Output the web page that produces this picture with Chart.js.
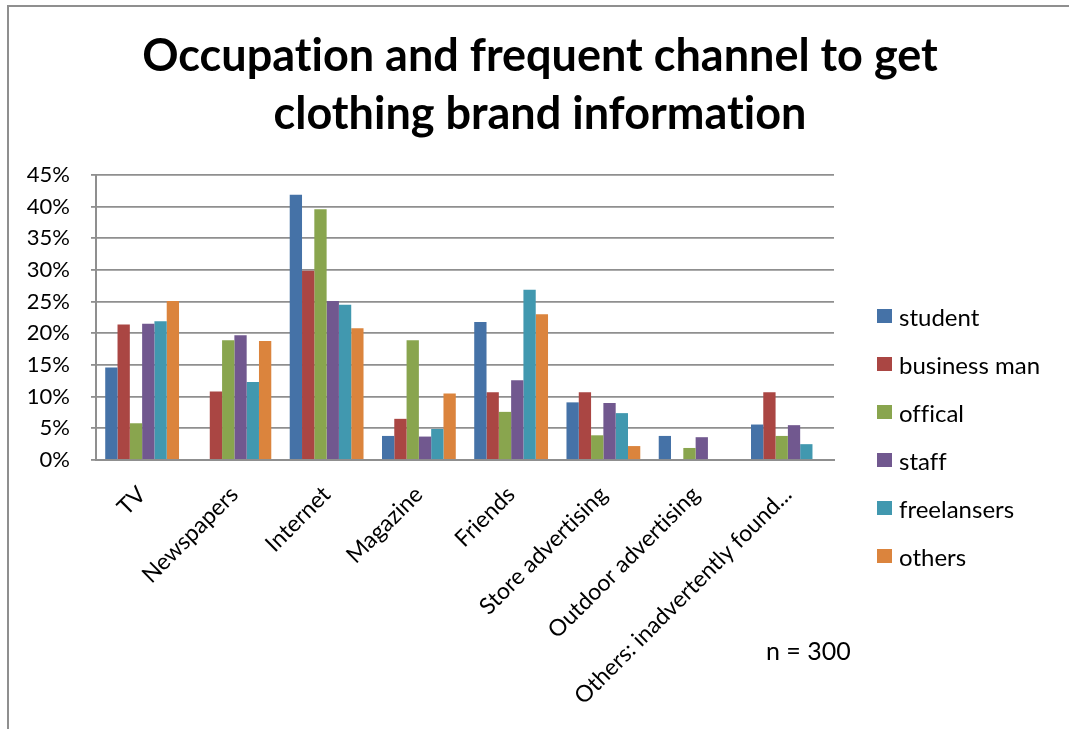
<!DOCTYPE html>
<html>
<head>
<meta charset="utf-8">
<script src="https://cdn.jsdelivr.net/npm/chart.js@4"></script>
<style>
  html, body { margin: 0; padding: 0; background: #fff; }
  body { width: 1069px; height: 729px; overflow: hidden; position: relative; font-family: Lato, sans-serif; font-variant-ligatures: none; }
  /* frame around the chart, runs off the right and bottom edge */
  .frame { position: absolute; left: 7px; top: 5px; width: 1100px; height: 800px; border: 2px solid #8f8f8f; box-sizing: border-box; }
  .chart { position: absolute; left: 0; top: 0; width: 1069px; height: 729px; }
  .title { position: absolute; left: 0; top: 25px; width: 1080px; text-align: center; font-size: 45px; font-weight: bold; line-height: 58px; color: #000; }
  #legend { position: absolute; left: 877px; top: 292px; }
  #legend .item { height: 48px; display: flex; align-items: center; font-size: 24px; color: #000; }
  #legend .box { width: 15px; height: 14px; margin-right: 7px; }
  .note { position: absolute; left: 766px; top: 635px; font-size: 25px; color: #000; }
</style>
</head>
<body>
  <div class="frame"></div>
  <div class="chart">
    <canvas id="myChart" width="1069" height="729"></canvas>
  </div>
  <div class="title">Occupation and frequent channel to get<br>clothing brand information</div>
  <div id="legend"></div>
  <div class="note">n = 300</div>

<script>
  // kanal informasi (kategori sumbu x)
  const channels = ['TV', 'Newspapers', 'Internet', 'Magazine', 'Friends', 'Store advertising', 'Outdoor advertising', 'Others: inadvertently found...'];

  // persentase per pekerjaan, urut sesuai channels
  const student     = [14.6, 0,    41.9, 3.8,  21.8, 9.1,  3.8, 5.6];
  const businessMan = [21.4, 10.8, 29.9, 6.5,  10.7, 10.7, 0,   10.7];
  const offical     = [5.8,  18.9, 39.6, 18.9, 7.6,  3.9,  1.9, 3.8];
  const staff       = [21.5, 19.7, 25.1, 3.7,  12.6, 9.0,  3.6, 5.5];
  const freelansers = [21.9, 12.3, 24.5, 4.9,  26.9, 7.4,  0,   2.5];
  const others      = [25.1, 18.8, 20.8, 10.5, 23.0, 2.2,  0,   0];

  const yTicks = [0, 5, 10, 15, 20, 25, 30, 35, 40, 45];

  const seriesNames = ['student', 'business man', 'offical', 'staff', 'freelansers', 'others'];
  const seriesData = [student, businessMan, offical, staff, freelansers, others];
  const colors = ['#4572A7', '#AA4643', '#89A54E', '#71588F', '#4198AF', '#DB843D'];

  const ctx = document.getElementById('myChart').getContext('2d');

  var myChart = new Chart(ctx, {
    type: 'bar',
    data: {
      labels: channels,
      datasets: seriesNames.map((name, i) => ({
        label: name,
        data: seriesData[i],
        backgroundColor: colors[i],
        borderWidth: 0,
      })),
    },
    options: {
      responsive: false,
      animation: false,
      layout: { padding: { left: 10, right: 235, top: 175, bottom: 9 } },
      datasets: { bar: { categoryPercentage: 0.8, barPercentage: 1.0 } },
      plugins: {
        legend: { display: false },
        tooltip: { enabled: false },
      },
      scales: {
        x: {
          afterFit: (scale) => { scale.height = 260; },
          grid: { display: false },
          border: { display: true, color: '#8f8f8f', width: 2 },
          ticks: {
            color: '#000',
            font: { family: 'Lato', size: 23 },
            minRotation: 45,
            maxRotation: 45,
            padding: 13,
            autoSkip: false,
          },
        },
        y: {
          min: 0,
          max: 45,
          afterFit: (scale) => { scale.width = 86; },
          afterBuildTicks: (scale) => { scale.ticks = yTicks.map(v => ({ value: v })); },
          grid: { color: '#8f8f8f', lineWidth: 1.8, tickLength: 5, drawTicks: true },
          border: { display: true, color: '#8f8f8f', width: 2 },
          ticks: {
            color: '#000',
            font: { family: 'Lato', size: 22 },
            padding: 21,
            callback: (v) => v + '%',
          },
        },
      },
    },
  });

  // legenda di kanan dibuat dari dataset chart
  const legendEl = document.getElementById('legend');
  myChart.data.datasets.forEach(ds => {
    const row = document.createElement('div');
    row.className = 'item';
    const box = document.createElement('span');
    box.className = 'box';
    box.style.background = ds.backgroundColor;
    row.appendChild(box);
    row.appendChild(document.createTextNode(ds.label));
    legendEl.appendChild(row);
  });
</script>
</body>
</html>
